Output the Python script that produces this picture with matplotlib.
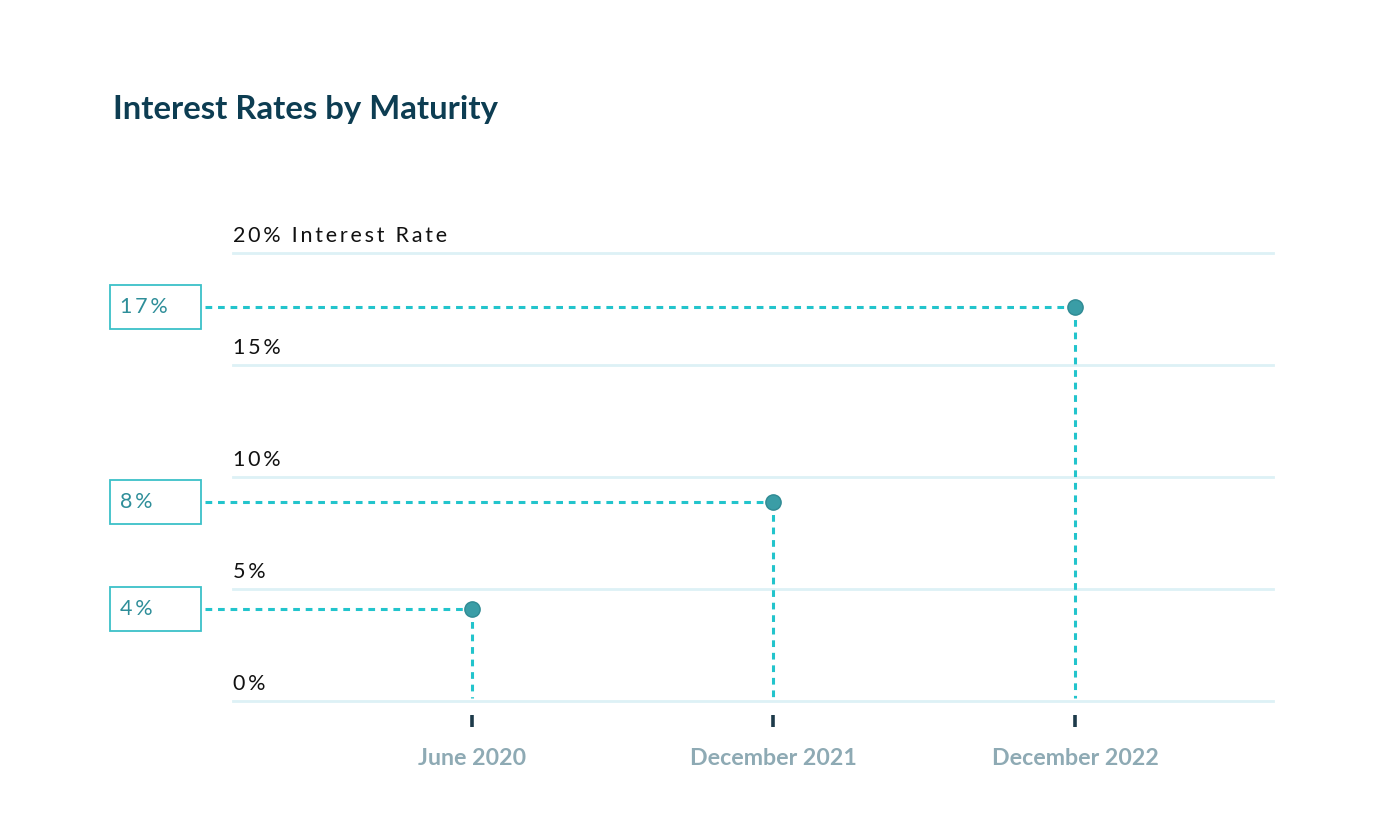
import matplotlib.pyplot as plt
from matplotlib.patches import Rectangle
from matplotlib.transforms import blended_transform_factory

# Data
dates = ["June 2020", "December 2021", "December 2022"]
rates = [4.1, 8.9, 17.6]
rate_labels = ["4%", "8%", "17%"]
grid_values = [0, 5, 10, 15, 20]
grid_labels = ["0%", "5%", "10%", "15%", "20% Interest Rate"]

plt.rcParams['font.family'] = ['Lato', 'DejaVu Sans']


def tracked(s):
    # the reference uses wide letter spacing; approximate with thin spaces
    return '\u2009'.join(s)


fig = plt.figure(figsize=(14, 8.36), dpi=100)
W, H = 1400, 836
# axes spans the gridlines: x 233..1273 px, y 0% at 701 px, 20% at 253 px
ax = fig.add_axes([233 / W, 1 - 701 / H, 1040 / W, 448 / H])
ax.set_ylim(0, 20)
ax.set_xlim(-0.793, 2.657)

for s in ax.spines.values():
    s.set_visible(False)

# gridlines and their labels
for v, lab in zip(grid_values, grid_labels):
    ax.axhline(v, color='#ddf1f6', lw=2, zorder=1, clip_on=False)
    ax.text(0, v + 0.33, tracked(lab), transform=blended_transform_factory(ax.transAxes, ax.transData),
            ha='left', va='bottom', fontsize=15.5, color='#111111')

cyan = '#22c4cc'
dash = (0, (2.2, 1.9))
x0 = ax.get_xlim()[0] + (205 - 233) / 1040 * (ax.get_xlim()[1] - ax.get_xlim()[0])
trans_box = blended_transform_factory(ax.transAxes, ax.transData)
box_h = 44 / 22.4
for i, (r, lab) in enumerate(zip(rates, rate_labels)):
    ax.plot([x0, i], [r, r], color=cyan, lw=2.2, ls=dash, clip_on=False, zorder=2)
    ax.plot([i, i], [r, 0.15], color=cyan, lw=2.2, ls=dash, clip_on=False, zorder=2)
    ax.plot(i, r, 'o', ms=11, mfc='#3a9da6', mec='#2f8a93', mew=1, zorder=3, clip_on=False)
    ax.add_patch(Rectangle(((110 - 233) / 1040, r - box_h / 2), 91 / 1040, box_h,
                           transform=trans_box, fill=False, ec='#3cc0c8', lw=1.3,
                           clip_on=False))
    ax.text((120 - 233) / 1040, r, tracked(lab), transform=trans_box, ha='left', va='center',
            fontsize=15.5, color='#2e8e99')

# x axis: small dark tick marks below the zero line
ax.spines['bottom'].set_position(('data', -14 / 22.4))
ax.set_yticks([])
ax.set_xticks(range(len(dates)))
ax.set_xticklabels(dates, fontsize=16.7, fontweight='bold', color='#8eaab4')
ax.tick_params(axis='x', length=8.6, width=2.6, color='#1d3a4a', pad=15, direction='out')

fig.text(113 / W, 1 - 110 / H, "Interest Rates by Maturity", ha='left', va='center',
         fontsize=23.7, fontweight='bold', color='#0d3d52')

plt.savefig('out.png', dpi=100, facecolor='white')
